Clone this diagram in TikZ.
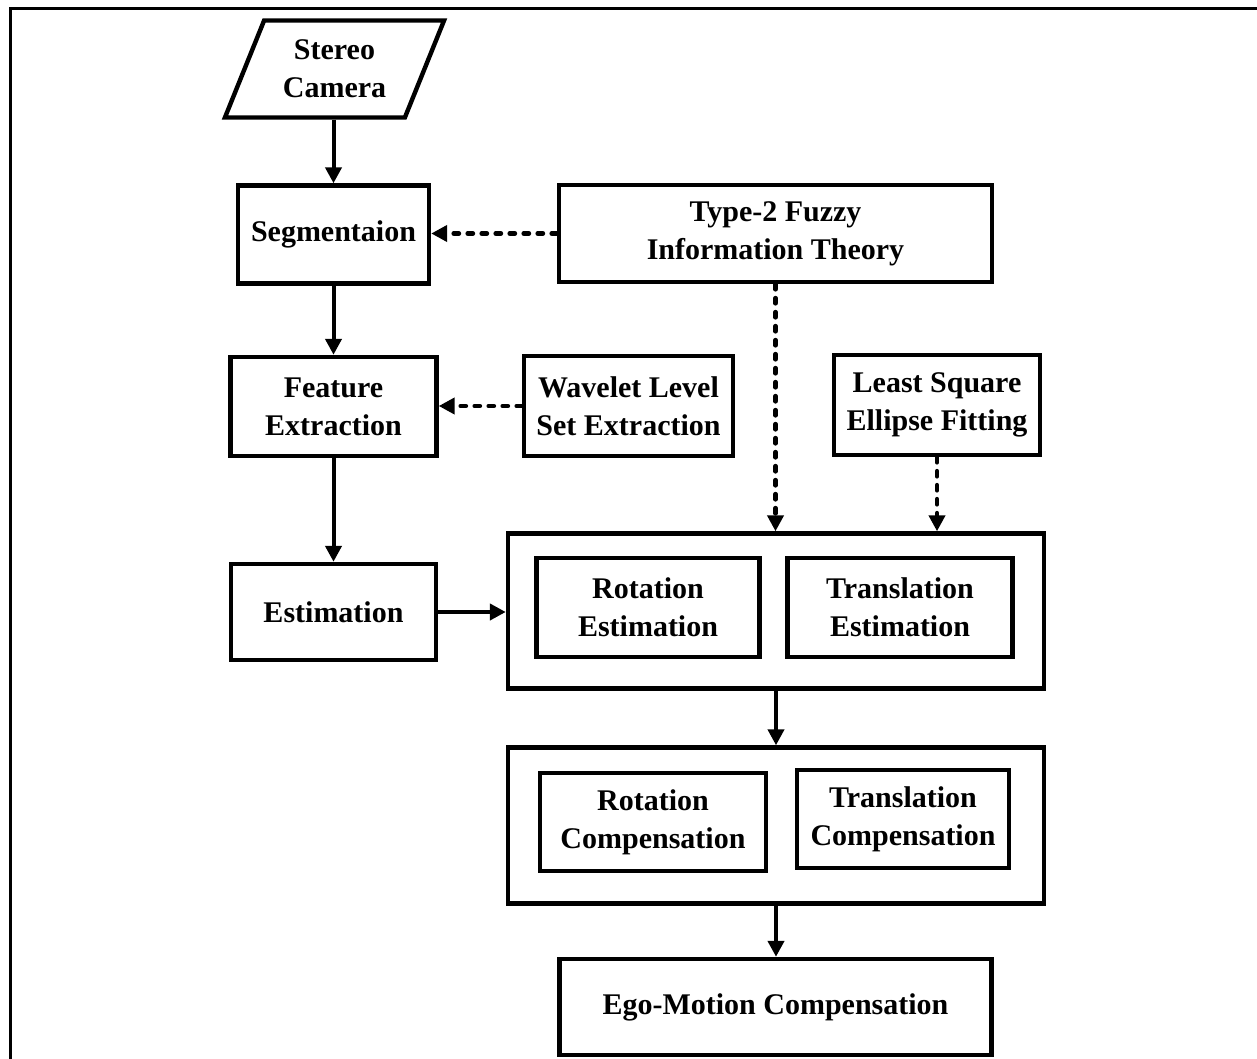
\documentclass[tikz,border=0pt]{standalone}
\usepackage{fontspec}
\setmainfont{Liberation Serif}
\usetikzlibrary{arrows.meta,shapes.geometric}
\begin{document}
\begin{tikzpicture}[x=0.5pt,y=-0.5pt,>={Triangle[length=8pt,width=8pt]},
    main node/.style={draw,line width=2.2pt,align=center,inner sep=0pt,font=\bfseries\fontsize{15}{19}\selectfont},
    group node/.style={draw,line width=2.2pt,inner sep=0pt},
    dotted edge/.style={line width=2.4pt,dash pattern=on 2.5pt off 4.5pt,line cap=round}]
    \useasboundingbox (0,0) rectangle (1257,1059);
    \draw[line width=1.5pt] (10,1070) -- (10,9) -- (1270,9);
    \node[main node,trapezium,trapezium left angle=63.7,trapezium right angle=116.3,trapezium stretches=true,minimum width=110pt,minimum height=48.5pt] (1) at (334.5,69) {Stereo\\Camera};
    \node[main node,minimum width=95.5pt,minimum height=49pt] (2) at (333.5,234.5) {Segmentaion};
    \node[main node,minimum width=216.5pt,minimum height=48.5pt] (3) at (775.5,233.5) {Type-2 Fuzzy\\Information Theory};
    \node[main node,minimum width=103pt,minimum height=49.5pt] (4) at (333.5,406.5) {Feature\\Extraction};
    \node[main node,minimum width=104.5pt,minimum height=50pt] (5) at (628.5,406) {Wavelet Level\\Set Extraction};
    \node[main node,minimum width=103pt,minimum height=50pt] (6) at (937,405) {Least Square\\Ellipse Fitting};
    \node[main node,minimum width=102.5pt,minimum height=48pt] (7) at (333.5,612) {Estimation};
    \node[group node,minimum width=268pt,minimum height=77.5pt] (8) at (776,611) {};
    \node[main node,minimum width=111.5pt,minimum height=49.5pt] (9) at (648,607.5) {Rotation\\Estimation};
    \node[main node,minimum width=112.5pt,minimum height=49.5pt] (10) at (900,607.5) {Translation\\Estimation};
    \node[group node,minimum width=268pt,minimum height=78pt] (11) at (776,825.5) {};
    \node[main node,minimum width=113pt,minimum height=49pt] (12) at (653,822) {Rotation\\Compensation};
    \node[main node,minimum width=106pt,minimum height=49pt] (13) at (903,819) {Translation\\Compensation};
    \node[main node,minimum width=216pt,minimum height=48pt] (14) at (775.5,1007) {Ego-Motion Compensation};
    \path[->,line width=2pt]
        (2 |- 1.south) edge (2)
        (2) edge (4)
        (4) edge (7)
        (7) edge (7 -| 8.west)
        (8) edge (11)
        (11) edge (11 |- 14.north);
    \path[->,dotted edge]
        (3) edge (3 -| 2.east)
        (5) edge (5 -| 4.east)
        (3) edge (3 |- 8.north)
        (6) edge (6 |- 8.north);
\end{tikzpicture}
\end{document}
